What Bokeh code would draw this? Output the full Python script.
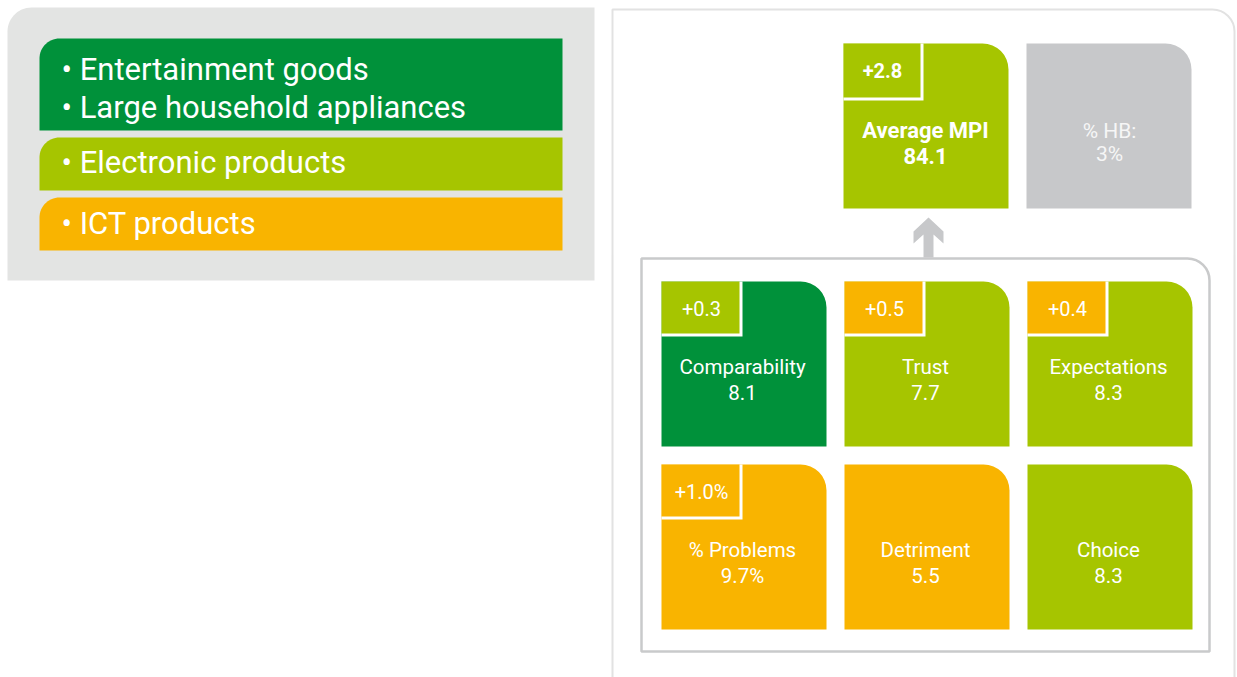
import numpy as np
from bokeh.plotting import figure
from bokeh.models import Range1d
from bokeh.embed import file_html
from bokeh.resources import INLINE
from bokeh.core.properties import value

# ---------------- data ----------------
DG = "#00913a"   # dark green
LG = "#a6c500"   # light green
OR = "#f9b400"   # orange
GR = "#c7c8ca"   # grey tile

group_lines = [["Entertainment goods", "Large household appliances"],
               ["Electronic products"],
               ["ICT products"]]
group_colors = [DG, LG, OR]

mpi_label = "Average MPI"
mpi_value = "84.1"
mpi_delta = "+2.8"
mpi_color = LG
hb_label = "% HB:"
hb_value = "3%"

tile_names = ["Comparability", "Trust", "Expectations", "% Problems", "Detriment", "Choice"]
tile_values = ["8.1", "7.7", "8.3", "9.7%", "5.5", "8.3"]
tile_colors = [DG, LG, LG, OR, OR, LG]
tile_deltas = ["+0.3", "+0.5", "+0.4", "+1.0%", "", ""]
delta_colors = [LG, OR, OR, OR, None, None]

# ---------------- layout (screen pixels) ----------------
FONT = value("Roboto")
W, H = 1237, 677


def Y(sy):
    return H - sy


def tl_rounded(l, r, t, b, rad):
    """Outline of a box (screen coords) with a rounded top-left corner, in data coords."""
    top, bot = Y(t), Y(b)
    cxc, cyc = l + rad, top - rad
    ang = np.linspace(np.pi, np.pi / 2, 16)
    xs = list(cxc + rad * np.cos(ang)) + [r, r, l]
    ys = list(cyc + rad * np.sin(ang)) + [top, bot, bot]
    return xs, ys


p = figure(width=W, height=H, x_range=Range1d(0, W), y_range=Range1d(0, H),
           x_axis_type=None, y_axis_type=None, toolbar_location=None,
           output_backend="svg", min_border=0, outline_line_color=None,
           background_fill_color="white", border_fill_color="white")
p.grid.visible = False

# left grey panel
gx, gy = tl_rounded(7, 594, 7, 280, 24)
p.patch(x=gx, y=gy, fill_color="#e3e4e3", line_color=None)

# group bars
g_tops = [38, 137, 197]
g_bots = [130, 190, 250]
bx, by = [], []
for t, b in zip(g_tops, g_bots):
    xs, ys = tl_rounded(39, 562, t, b, 20)
    bx.append(xs)
    by.append(ys)
p.patches(xs=bx, ys=by, fill_color=group_colors, line_color=None)

line_y = [69, 107, 162, 223]
txts = []
for lines in group_lines:
    for ln in lines:
        txts.append("\u2022 " + ln)
p.text(x=[61] * len(txts), y=[Y(v) for v in line_y], text=txts, text_color="white",
       text_font=FONT, text_font_size=value("31px"), text_align="left",
       text_baseline="middle")

# right outer panel
p.quad(left=[612], right=[1234], top=[Y(9)], bottom=[Y(720)], fill_color="white",
       line_color="#e2e2e2", line_width=2, border_radius=(0, 22, 0, 0))

# inner panel
p.quad(left=[641], right=[1209], top=[Y(258)], bottom=[Y(651)], fill_color=None,
       line_color="#c9cacb", line_width=2.5, border_radius=(0, 22, 0, 0))

# arrow
cx = 928
ax = [cx, cx + 15, cx + 15, cx + 5, cx + 5, cx - 5, cx - 5, cx - 15, cx - 15]
ay = [217, 231, 243, 234, 257, 257, 234, 243, 231]
p.patch(x=ax, y=[Y(v) for v in ay], fill_color=GR, line_color=None)

# top boxes: MPI and HB
TS = 165
top_x = [843, 1026]
top_y = 43
p.quad(left=top_x, right=[x + TS for x in top_x], top=[Y(top_y)] * 2,
       bottom=[Y(top_y + TS)] * 2, fill_color=[mpi_color, GR], line_color=None,
       border_radius=(0, 26, 0, 0))
# MPI delta box
p.quad(left=[843], right=[843 + 80], top=[Y(top_y)], bottom=[Y(top_y + 57)],
       fill_color="white", line_color=None)
p.quad(left=[843], right=[843 + 77], top=[Y(top_y)], bottom=[Y(top_y + 54)],
       fill_color=mpi_color, line_color=None)
p.text(x=[882], y=[Y(70)], text=[mpi_delta], text_color="white", text_font=FONT,
       text_font_style="bold", text_font_size=value("20px"), text_align="center",
       text_baseline="middle")
p.text(x=[925, 925], y=[Y(130), Y(155)], text=[mpi_label, mpi_value], text_color="white",
       text_font=FONT, text_font_style="bold", text_font_size=value("22px"),
       text_align="center", text_baseline="middle")
p.text(x=[1109, 1109], y=[Y(130), Y(153)], text=[hb_label, hb_value], text_color="#f6f6f6",
       text_font=FONT, text_font_size=value("21px"), text_align="center",
       text_baseline="middle")

# tiles
col_x = [661, 844, 1027]
row_y = [281, 464]
tx, ty = [], []
for i in range(len(tile_names)):
    tx.append(col_x[i % 3])
    ty.append(row_y[i // 3])
p.quad(left=tx, right=[x + TS for x in tx], top=[Y(y) for y in ty],
       bottom=[Y(y + TS) for y in ty], fill_color=tile_colors, line_color=None,
       border_radius=(0, 26, 0, 0))

dx = [tx[i] for i in range(len(tx)) if tile_deltas[i]]
dy = [ty[i] for i in range(len(ty)) if tile_deltas[i]]
dc = [delta_colors[i] for i in range(len(tx)) if tile_deltas[i]]
dt = [tile_deltas[i] for i in range(len(tx)) if tile_deltas[i]]
p.quad(left=dx, right=[x + 81 for x in dx], top=[Y(y) for y in dy],
       bottom=[Y(y + 55) for y in dy], fill_color="white", line_color=None)
p.quad(left=dx, right=[x + 78 for x in dx], top=[Y(y) for y in dy],
       bottom=[Y(y + 52) for y in dy], fill_color=dc, line_color=None)
p.text(x=[x + 40 for x in dx], y=[Y(y + 27) for y in dy], text=dt, text_color="white",
       text_font=FONT, text_font_size=value("20px"), text_align="center",
       text_baseline="middle")

p.text(x=[x + 81 for x in tx], y=[Y(y + 85) for y in ty], text=tile_names,
       text_color="white", text_font=FONT, text_font_size=value("20.5px"),
       text_align="center", text_baseline="middle")
p.text(x=[x + 81 for x in tx], y=[Y(y + 111) for y in ty], text=tile_values,
       text_color="white", text_font=FONT, text_font_size=value("20.5px"),
       text_align="center", text_baseline="middle")

open("out.html", "w").write(file_html(p, INLINE))
